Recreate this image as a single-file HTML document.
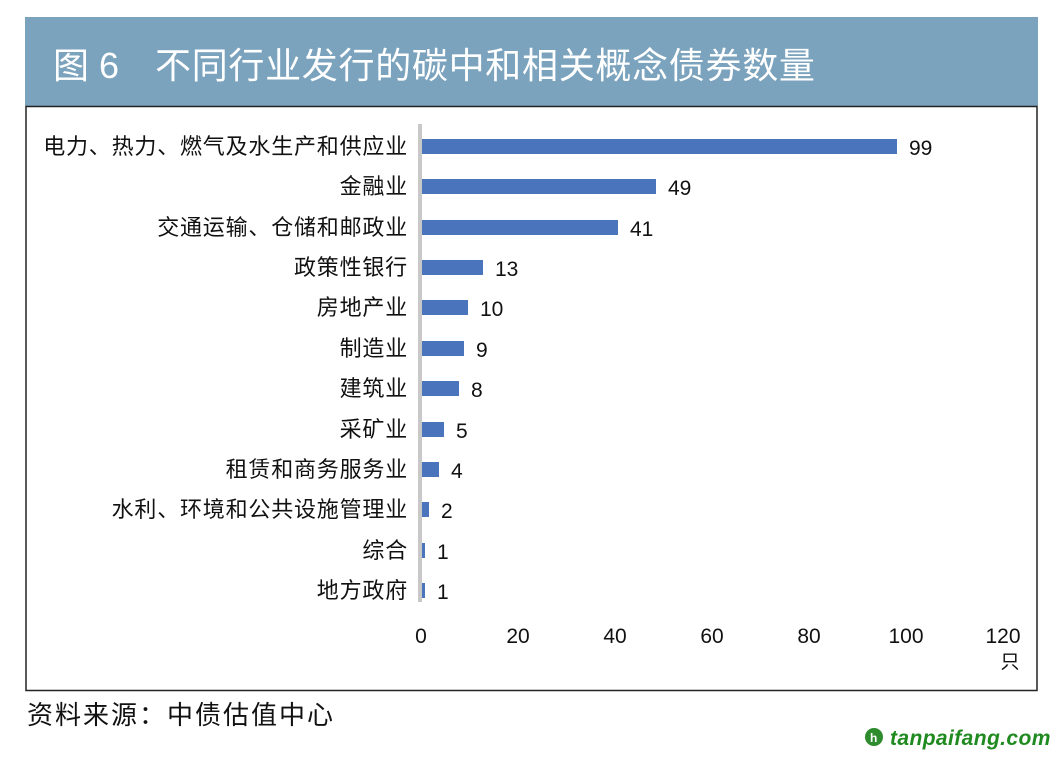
<!DOCTYPE html>
<html><head><meta charset="utf-8"><style>
html,body{margin:0;padding:0;background:#fff;}
svg{display:block;}
text{font-family:"Liberation Sans","Noto Sans CJK SC",sans-serif;}
</style></head><body>
<svg width="1062" height="757" xmlns="http://www.w3.org/2000/svg">
<rect x="0" y="0" width="1062" height="757" fill="#fff"/>
<rect x="25" y="17" width="1013" height="89" fill="#7ba3bd"/>
<text x="53" y="78" font-size="36" fill="#fff">图 6</text>
<text x="155" y="78" font-size="36" letter-spacing="0.7" fill="#fff">不同行业发行的碳中和相关概念债券数量</text>
<rect x="26" y="106.5" width="1011" height="584" fill="none" stroke="#222" stroke-width="1.5"/>
<rect x="418" y="124" width="4" height="478" fill="#c8c8c8"/>
<g font-size="22" fill="#111" text-anchor="end" letter-spacing="0.8">
<text x="408" y="154">电力、热力、燃气及水生产和供应业</text>
<text x="408" y="194">金融业</text>
<text x="408" y="235">交通运输、仓储和邮政业</text>
<text x="408" y="275">政策性银行</text>
<text x="408" y="315">房地产业</text>
<text x="408" y="356">制造业</text>
<text x="408" y="396">建筑业</text>
<text x="408" y="437">采矿业</text>
<text x="408" y="477">租赁和商务服务业</text>
<text x="408" y="517">水利、环境和公共设施管理业</text>
<text x="408" y="558">综合</text>
<text x="408" y="598">地方政府</text>
</g>
<g fill="#4a74bb">
<rect x="422" y="139" width="475" height="15"/>
<rect x="422" y="179" width="234" height="15"/>
<rect x="422" y="220" width="196" height="15"/>
<rect x="422" y="260" width="61" height="15"/>
<rect x="422" y="300" width="46" height="15"/>
<rect x="422" y="341" width="42" height="15"/>
<rect x="422" y="381" width="37" height="15"/>
<rect x="422" y="422" width="22" height="15"/>
<rect x="422" y="462" width="17" height="15"/>
<rect x="422" y="502" width="7" height="15"/>
<rect x="422" y="543" width="3" height="15"/>
<rect x="422" y="583" width="3" height="15"/>
</g>
<g font-size="21" fill="#111">
<text x="909" y="155">99</text>
<text x="668" y="195">49</text>
<text x="630" y="236">41</text>
<text x="495" y="276">13</text>
<text x="480" y="316">10</text>
<text x="476" y="357">9</text>
<text x="471" y="397">8</text>
<text x="456" y="438">5</text>
<text x="451" y="478">4</text>
<text x="441" y="518">2</text>
<text x="437" y="559">1</text>
<text x="437" y="599">1</text>
</g>
<g font-size="21" fill="#111" text-anchor="middle">
<text x="421" y="643">0</text>
<text x="518" y="643">20</text>
<text x="615" y="643">40</text>
<text x="712" y="643">60</text>
<text x="809" y="643">80</text>
<text x="906" y="643">100</text>
<text x="1003" y="643">120</text>
<text x="1010" y="668" font-size="19">只</text>
</g>
<text x="27" y="724" font-size="26" letter-spacing="2" fill="#111">资料来源：中债估值中心</text>
<circle cx="874" cy="737" r="9" fill="#2e8b2e"/>
<text x="870" y="742" font-size="12" font-weight="bold" fill="#fff">h</text>
<text x="890" y="745" font-size="21" font-weight="bold" font-style="italic" letter-spacing="0.4" fill="#1f8a1f">tanpaifang.com</text>
</svg>
</body></html>
